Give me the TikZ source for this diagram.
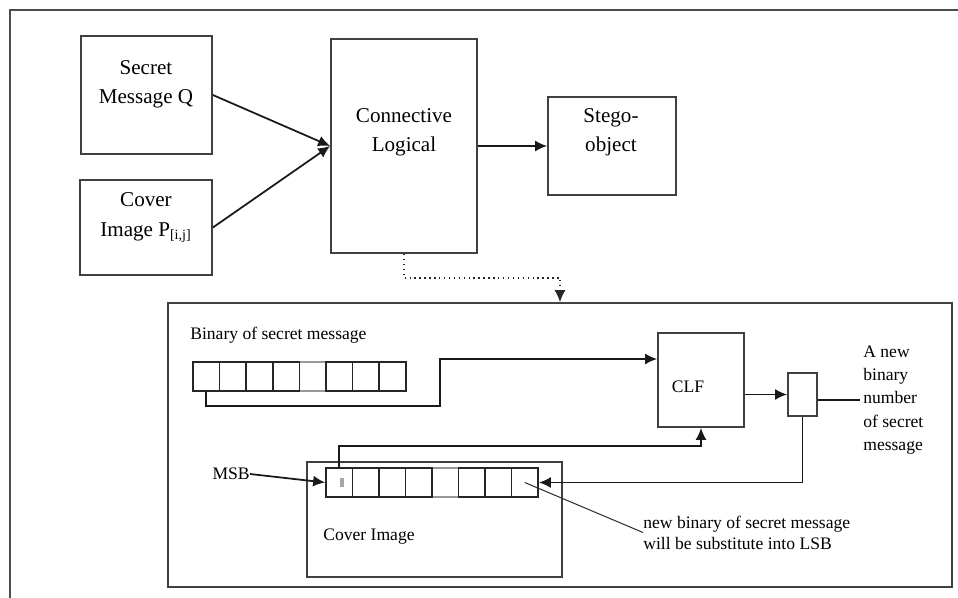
\documentclass[tikz,border=0pt]{standalone}
\usepackage{fontspec}
\setmainfont{Liberation Serif}
\usetikzlibrary{arrows.meta,positioning}
\tikzset{%
    >={Latex[width=2.2mm,length=2.4mm]},
    base/.style = {
        rectangle, draw=black!75, line width=1pt, inner sep=0pt
    },
    block/.style = {base},
    bitcell/.style = {base, minimum height=0.58cm},
    txt/.style = {inner sep=0pt, align=left, font=\fontsize{10}{12}\selectfont},
    bigtxt/.style = {inner sep=0pt, align=center, font=\fontsize{12}{16.7}\selectfont},
    wire/.style = {line width=1pt, black!90},
}
\begin{document}
\begin{tikzpicture}[x=0.02cm, y=-0.02cm]
    \useasboundingbox (0,0) rectangle (958,598);
    % Frame
    \draw[black!70, line width=0.7pt] (10,598) -- (10,10) -- (958,10);

    % Nodes position
    \node (secret)  [block, minimum width=2.62cm, minimum height=2.36cm] at (146.5,95) {};
    \node (cover)   [block, minimum width=2.64cm, minimum height=1.9cm] at (146,227.5) {};
    \node (connect) [block, minimum width=2.92cm, minimum height=4.28cm] at (404,146) {};
    \node (stego)   [block, minimum width=2.56cm, minimum height=1.96cm] at (612,146) {};

    \node (secretText)  [bigtxt] at (146,84)    {Secret\\Message Q};
    \node (coverText)   [bigtxt] at (146,217.5) {Cover\\Image P\textsubscript{[i,j]}};
    \node (connectText) [bigtxt] at (404,132)   {Connective\\Logical};
    \node (stegoText)   [bigtxt] at (611,132.5) {Stego-\\object};

    \node (detail) [block, minimum width=15.68cm, minimum height=5.68cm] at (560,445) {};
    \node (binText) [txt, anchor=west] at (190,335) {Binary of secret message};
    \foreach \i/\tone in {5/40,1/85,2/85,3/85,4/85,6/85,7/85,8/85}
        \node (msg\i) [bitcell, minimum width=0.532cm, draw=black!\tone]
            at ({193+26.6*(\i-0.5)},376.5) {};

    \node (clf)     [block, minimum width=1.72cm, minimum height=1.88cm] at (701,380) {};
    \node (clfText) [txt] at (688,387) {CLF};
    \node (newBit)  [block, minimum width=0.58cm, minimum height=0.86cm] at (802.5,394.5) {};
    \node (newText) [txt, anchor=west, font=\fontsize{10}{13.2}\selectfont] at (863,400)
                        {A new\\binary\\number\\of secret\\message};

    \node (coverImg) [block, minimum width=5.1cm, minimum height=2.3cm] at (434.5,519.5) {};
    \foreach \i/\tone in {5/40,1/85,2/85,3/85,4/85,6/85,7/85,8/85}
        \node (cov\i) [bitcell, minimum width=0.53cm, draw=black!\tone]
            at ({326+26.5*(\i-0.5)},482.5) {};
    \node (mark) [fill=gray!70, inner sep=0pt, minimum width=0.08cm, minimum height=0.18cm]
        at ([xshift=0.06cm]cov1.center) {};
    \node (msb)       [txt, anchor=east] at (250,474) {MSB};
    \node (coverName) [txt, anchor=west] at (323,537) {Cover Image};
    \node (lsbText)   [txt, anchor=west] at (643,532.5)
                        {new binary of secret message\\will be substitute into LSB};

    % Arrow specification
    \draw[wire, ->] (secret.east) -- (connect.west);
    \draw[wire, ->] (cover.east) -- (connect.west);
    \draw[wire, ->] (connect.east) -- (stego.west);
    \draw[black!85, line width=0.8pt, dotted, ->] (connect.south) -- ++(0,24) -| (detail.north);
    \draw[wire, ->] (msg1.south) |- (440,406) |- ([yshift=0.42cm]clf.west);
    \draw[wire, ->] (clf.east |- newBit.west) -- (newBit.west);
    \draw[wire] (newBit.east |- newText.west) -- ([xshift=-0.06cm]newText.west);
    \draw[wire, ->] (newBit.south) |- (cov8.east);
    \draw[wire, ->] (cov1.north) -- ++(0,-21) -| (clf.south);
    \draw[wire, ->] (msb.east) -- (cov1.west);
    \draw[black!80, line width=0.6pt] (cov8.center) -- (lsbText.west);
\end{tikzpicture}
\end{document}
